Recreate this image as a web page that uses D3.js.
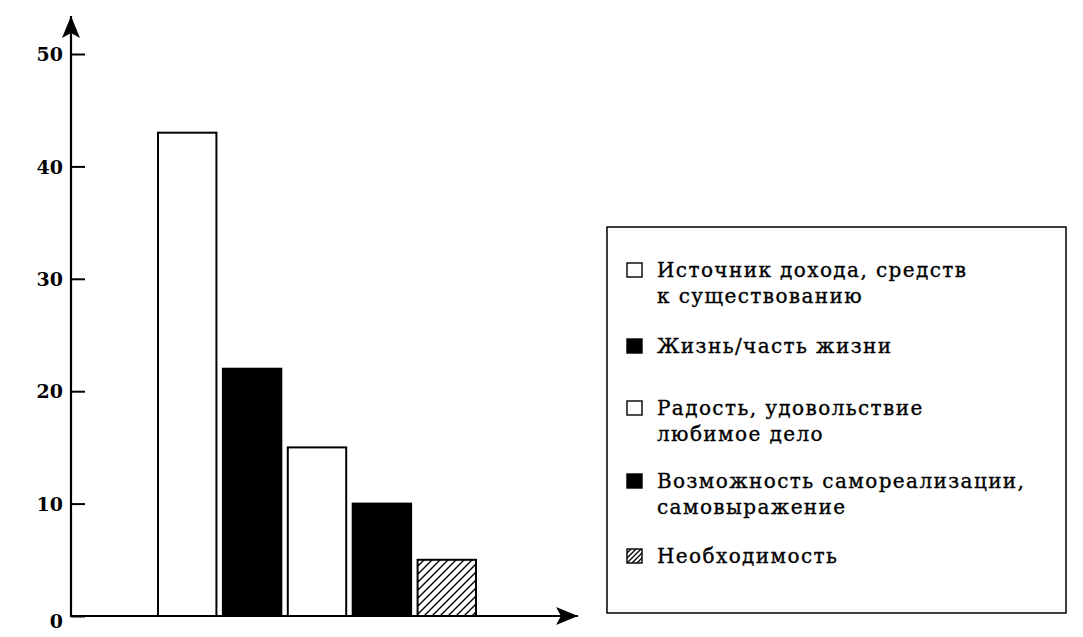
<!DOCTYPE html>
<html><head><meta charset="utf-8">
<script src="https://cdn.jsdelivr.net/npm/d3@7"></script>
<style>body{margin:0;background:#fff}svg{display:block}</style>
</head><body>
<script>
const categories = ["Источник дохода, средств к существованию","Жизнь/часть жизни","Радость, удовольствие любимое дело","Возможность самореализации, самовыражение","Необходимость"];
const values = [43, 22, 15, 10, 5];
const fills = ["white","black","white","black","hatch"];
const yTicks = [0, 10, 20, 30, 40, 50];
const legendLines = [["Источник дохода, средств","к существованию"],["Жизнь/часть жизни"],["Радость, удовольствие","любимое дело"],["Возможность самореализации,","самовыражение"],["Необходимость"]];

const W = 1083, H = 637;
const svg = d3.select("body").append("svg").attr("width", W).attr("height", H);
const defs = svg.append("defs");
const pat = defs.append("pattern").attr("id","hatch").attr("patternUnits","userSpaceOnUse").attr("width",8).attr("height",8);
pat.append("rect").attr("width",8).attr("height",8).attr("fill","white");
pat.append("path").attr("d","M0,8 L8,0 M-2,2 L2,-2 M6,10 L10,6").attr("stroke","black").attr("stroke-width",1.4);
const patS = defs.append("pattern").attr("id","hatchS").attr("patternUnits","userSpaceOnUse").attr("width",5).attr("height",5);
patS.append("rect").attr("width",5).attr("height",5).attr("fill","white");
patS.append("path").attr("d","M0,5 L5,0 M-1,1 L1,-1 M4,6 L6,4").attr("stroke","black").attr("stroke-width",1.3);
defs.append("marker").attr("id","arrow").attr("viewBox","0 0 22 18").attr("refX",22).attr("refY",9)
  .attr("markerWidth",22).attr("markerHeight",18).attr("markerUnits","userSpaceOnUse").attr("orient","auto")
  .append("path").attr("d","M0,0 L22,9 L0,18 L5,9 Z").attr("fill","black");

const fillOf = (f, small) => f === "hatch" ? (small ? "url(#hatchS)" : "url(#hatch)") : f;

const axisX = 71;
const y = d3.scaleLinear().domain([0, 50]).range([616, 54]);
const x = d3.scaleBand().domain(categories).range([158, 476]).paddingInner(0.1);

// bars
svg.append("g").selectAll("rect").data(categories).join("rect")
  .attr("x", d => x(d)).attr("y", (d,i) => y(values[i]))
  .attr("width", x.bandwidth()).attr("height", (d,i) => y(0) - y(values[i]))
  .attr("fill", (d,i) => fillOf(fills[i])).attr("stroke","black").attr("stroke-width",2);

// y axis
const yAxis = d3.axisLeft(y).tickValues(yTicks).tickSizeInner(-14).tickSizeOuter(0).tickPadding(8);
const gy = svg.append("g").attr("transform",`translate(${axisX},0)`).call(yAxis);
gy.select(".domain").remove();
gy.selectAll(".tick line").attr("stroke","black").attr("stroke-width",2);
gy.selectAll(".tick text").attr("font-family","DejaVu Serif").attr("font-weight","bold").attr("font-size",19).attr("fill","black")
  .attr("dy", d => d === 0 ? "0.6em" : "0.35em");
svg.append("line").attr("x1",axisX).attr("x2",axisX).attr("y1",y(0)+1).attr("y2",16)
  .attr("stroke","black").attr("stroke-width",2.2).attr("marker-end","url(#arrow)");
svg.append("line").attr("x1",axisX-1).attr("x2",578).attr("y1",y(0)).attr("y2",y(0))
  .attr("stroke","black").attr("stroke-width",2.2).attr("marker-end","url(#arrow)");

// legend
svg.append("rect").attr("x",607).attr("y",227).attr("width",459).attr("height",386)
  .attr("fill","none").attr("stroke","black").attr("stroke-width",1.5);
const itemY = [277, 353, 415, 488, 563];
const lg = svg.append("g");
legendLines.forEach((lines, i) => {
  lg.append("rect").attr("x",627).attr("y",itemY[i]-14).attr("width",15).attr("height",14)
    .attr("fill", fillOf(fills[i], true)).attr("stroke","black").attr("stroke-width",1.4);
  lines.forEach((t, j) => {
    lg.append("text").attr("x",657).attr("y",itemY[i] + j*26).text(t)
      .attr("font-family","DejaVu Serif").attr("font-size",20).attr("letter-spacing",1.4)
      .attr("stroke","black").attr("stroke-width",0.35).attr("fill","black");
  });
});
</script>
</body></html>
